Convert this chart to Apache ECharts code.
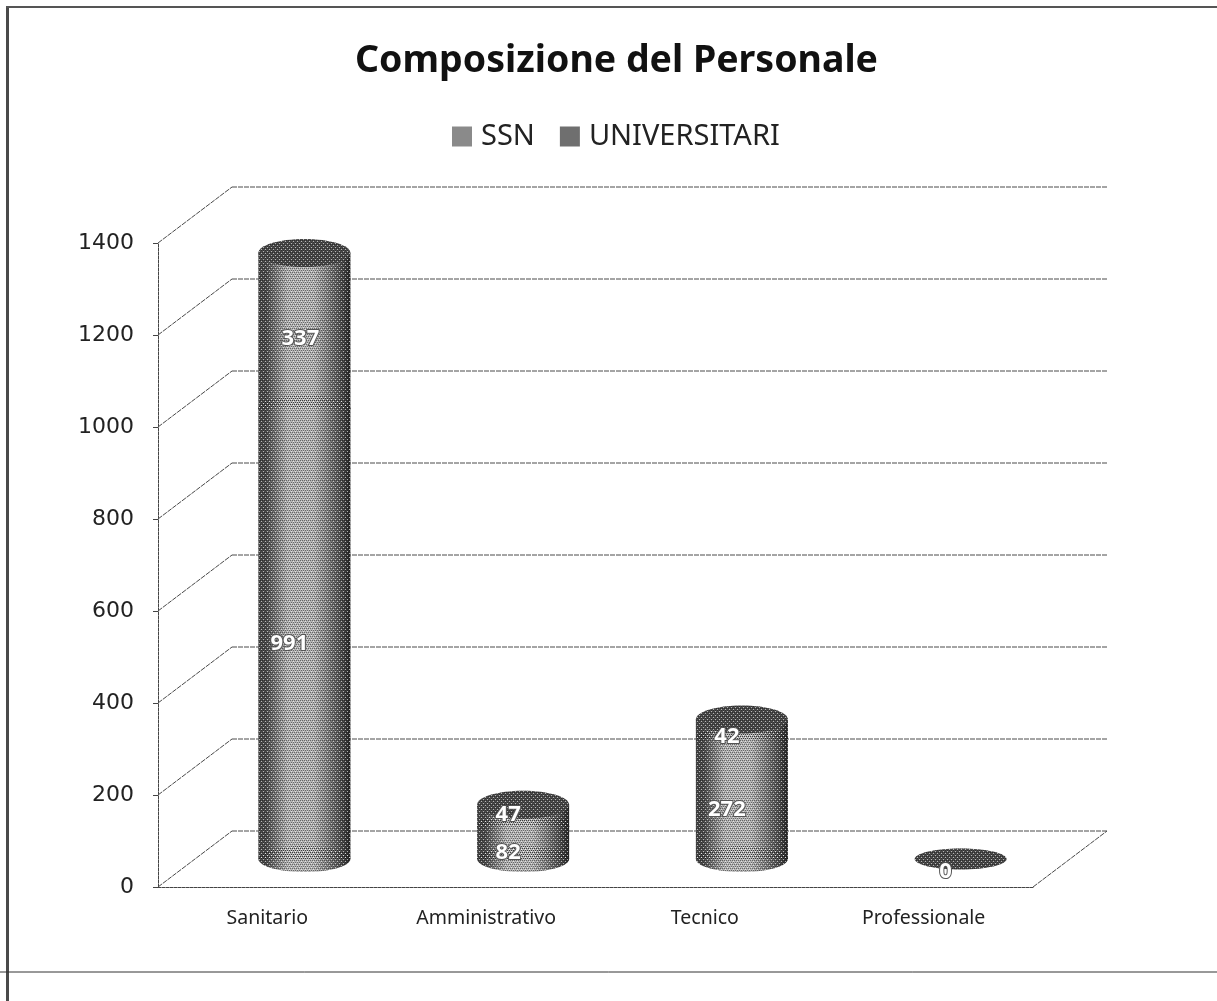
<!DOCTYPE html>
<html>
<head>
<meta charset="utf-8">
<title>Composizione del Personale</title>
<style>
    html, body { margin: 0; padding: 0; background: #fff; }
    #chart { width: 1217px; height: 1001px; }
</style>
</head>
<body>
<div id="chart"></div>
<script src="https://cdn.jsdelivr.net/npm/echarts@6/dist/echarts.min.js"></script>
<script>

const categories = ['Sanitario', 'Amministrativo', 'Tecnico', 'Professionale'];
const ssnValues = [991, 82, 272, 0];
const universitariValues = [337, 47, 42, 0];
const yTicks = [0, 200, 400, 600, 800, 1000, 1200, 1400];

const font = '"Noto Sans", sans-serif';

// depth of the fake 3d box, in pixels
const depthX = 74;
const depthY = -56;

const rx = 46;
const ry = 13;

const chart = echarts.init(document.getElementById('chart'));

// halftone left by the scan
const screen = document.createElement('canvas');
screen.width = 4;
screen.height = 4;
const sctx = screen.getContext('2d');
sctx.fillStyle = 'rgba(10,10,10,0.45)';
sctx.fillRect(0, 0, 1, 1);
sctx.fillRect(2, 0, 1, 1);
sctx.fillRect(1, 2, 1, 1);
sctx.fillRect(3, 2, 1, 1);
sctx.fillStyle = 'rgba(255,255,255,0.6)';
sctx.fillRect(1, 1, 1, 1);
sctx.fillRect(3, 3, 1, 1);

const bodyFill = (edge, mid) => new echarts.graphic.LinearGradient(0, 0, 1, 0, [
    { offset: 0, color: edge },
    { offset: 0.08, color: edge },
    { offset: 0.32, color: mid },
    { offset: 0.6, color: mid },
    { offset: 0.92, color: edge },
    { offset: 1, color: '#262626' },
]);

const wallItem = (params, api) => {
    const [x0, y] = api.coord([0, api.value(0)]);
    const size = api.size([1, 0]);
    const lineStyle = { stroke: '#4a4a4a', lineWidth: 1, lineDash: [5, 1] };
    const backX = x0 - size[0] / 2 + depthX;
    const backY = y + depthY;
    const width = size[0] * categories.length;
    const children = [
        { type: 'line', shape: { x1: x0 - size[0] / 2, y1: y, x2: backX, y2: backY }, style: lineStyle },
        { type: 'line', shape: { x1: backX, y1: backY, x2: backX + width, y2: backY }, style: lineStyle },
    ];
    if (api.value(0) === 0) {
        children.push({
            type: 'line',
            shape: { x1: x0 - size[0] / 2 + width, y1: y, x2: backX + width, y2: backY },
            style: lineStyle,
        });
    }
    return { type: 'group', children };
};

const cylinderItem = (edge, mid, capped) => (params, api) => {
    const index = api.value(0);
    const value = api.value(3);
    const start = api.value(1);
    const base = api.coord([index, start]);
    const top = api.coord([index, api.value(2)]);
    const cx = base[0] + depthX / 2;
    const yBase = base[1] + depthY / 2 + (start > 0 ? 5 : 0);
    const yTop = top[1] + depthY / 2 + 5;
    const fill = bodyFill(edge, mid);
    const pattern = { image: screen, repeat: 'repeat' };
    const children = [];

    if (value > 0) {
        const parts = (style) => [
            { type: 'ellipse', shape: { cx, cy: yBase, rx, ry }, style },
            { type: 'rect', shape: { x: cx - rx, y: yTop, width: rx * 2, height: yBase - yTop }, style },
        ];
        children.push(...parts({ fill }));
        children.push(...parts({ fill: pattern }));
    }

    if (capped) {
        const capShape = value > 0
            ? { cx, cy: yTop, rx, ry: ry + 1 }
            : { cx, cy: yTop - 5, rx, ry: 10.5 };
        children.push({ type: 'ellipse', shape: capShape, style: { fill: '#4a4a4a' } });
        children.push({ type: 'ellipse', shape: capShape, style: { fill: pattern } });
    }

    // Excel's labels are moved by hand on a couple of bars
    let nudgeX = 0;
    let nudgeY = 0;
    if (value === 337) nudgeX = 11;
    if (value === 47) nudgeY = -9;

    if (value > 0 || capped) {
        const middle = api.coord([index, (start + api.value(2)) / 2]);
        children.push({
            type: 'text',
            z2: 10,
            style: {
                x: middle[0] + 22 + nudgeX,
                y: middle[1] - 15 + nudgeY,
                text: String(value),
                fill: '#fff',
                font: 'bold 22px ' + font,
                align: 'center',
                verticalAlign: 'middle',
                stroke: '#555',
                lineWidth: 2,
                strokeFirst: true,
            },
        });
    }
    return { type: 'group', children };
};

const stackData = (values, below) => values.map((value, i) => {
    const start = below ? below[i] : 0;
    return [i, start, start + value, value];
});

chart.setOption({
    animation: false,
    backgroundColor: '#fff',
    title: {
        text: 'Composizione del Personale',
        left: 350,
        top: 37,
        textStyle: { fontFamily: font, fontWeight: 'bold', fontSize: 37.5, color: '#111' },
    },
    legend: {
        data: ['SSN', 'UNIVERSITARI'],
        left: 447,
        top: 117,
        icon: 'rect',
        itemWidth: 20,
        itemHeight: 20,
        itemGap: 25,
        textStyle: { fontFamily: font, fontSize: 29, color: '#222', padding: [0, 0, 0, 4] },
    },
    grid: { left: 158, right: 184, top: 243, bottom: 114 },
    xAxis: {
        type: 'category',
        data: categories,
        axisLine: { lineStyle: { color: '#444', type: [3, 1] } },
        axisTick: { alignWithLabel: false, length: 5, lineStyle: { color: '#444' } },
        axisLabel: { fontFamily: font, fontSize: 19.5, color: '#222', margin: 21 },
        splitLine: { show: false },
    },
    yAxis: {
        type: 'value',
        min: 0,
        max: 1400,
        interval: 200,
        axisLine: { show: true, lineStyle: { color: '#444', type: [3, 1] } },
        axisTick: { show: true, length: 5, lineStyle: { color: '#444' } },
        axisLabel: {
            fontFamily: '"DejaVu Sans", sans-serif',
            fontSize: 22,
            color: '#222',
            margin: 24,
            padding: [10, 0, 0, 0],
            formatter: (value) => String(value),
        },
        splitLine: { show: false },
    },
    graphic: [
        { type: 'rect', shape: { x: 6, y: 7, width: 3, height: 994 }, style: { fill: '#4a4a4a' }, silent: true },
        { type: 'rect', shape: { x: 6, y: 6, width: 1211, height: 2 }, style: { fill: '#555' }, silent: true },
        { type: 'line', shape: { x1: 0, y1: 972, x2: 1217, y2: 972 }, style: { stroke: '#333', lineWidth: 1 }, silent: true },
    ],
    series: [
        {
            name: 'pareti',
            type: 'custom',
            silent: true,
            z: 1,
            data: yTicks.map((tick) => [tick]),
            encode: { y: 0 },
            renderItem: wallItem,
        },
        {
            name: 'SSN',
            type: 'custom',
            z: 2,
            itemStyle: { color: '#8a8a8a' },
            data: stackData(ssnValues),
            encode: { x: 0, y: 2 },
            renderItem: cylinderItem('#4a4a4a', '#b4b4b4', false),
        },
        {
            name: 'UNIVERSITARI',
            type: 'custom',
            z: 3,
            itemStyle: { color: '#6f6f6f' },
            data: stackData(universitariValues, ssnValues),
            encode: { x: 0, y: 2 },
            renderItem: cylinderItem('#4a4a4a', '#b4b4b4', true),
        },
    ],
});

</script>
</body>
</html>
